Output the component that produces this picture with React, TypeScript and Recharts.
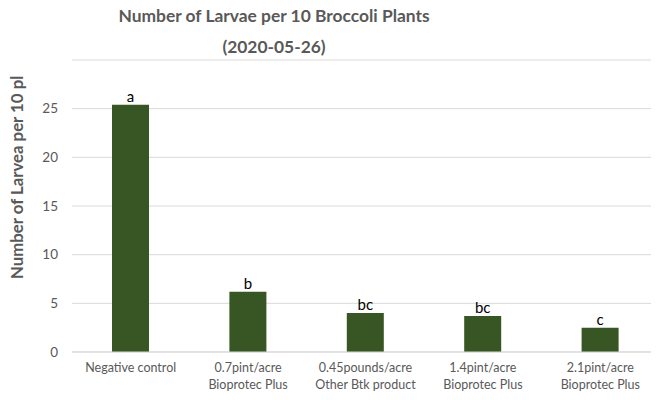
import React from "react";
import { BarChart, Bar, XAxis, YAxis, CartesianGrid, LabelList } from "recharts";

// treatments (two-line tick labels)
const treatments = [
  ["Negative control"],
  ["0.7pint/acre", "Bioprotec Plus"],
  ["0.45pounds/acre", "Other Btk product"],
  ["1.4pint/acre", "Bioprotec Plus"],
  ["2.1pint/acre", "Bioprotec Plus"],
];
const larvae = [25.4, 6.2, 4.0, 3.7, 2.5];
const groups = ["a", "b", "bc", "bc", "c"];
const yTicks = [0, 5, 10, 15, 20, 25];

const data = treatments.map((t, i) => ({
  name: t.join(" "),
  value: larvae[i],
  group: groups[i],
}));

const FONT = "Lato, 'Open Sans', sans-serif";
const GREY = "#595959";

const TreatmentTick = ({ x, payload, index }: any) => {
  const lines = treatments[index] || [payload.value];
  // baseline of the first line just under the plot
  return (
    <text x={x} y={372} textAnchor="middle" fill={GREY} fontSize={12.5} fontFamily={FONT}>
      {lines.map((l: string, i: number) => (
        <tspan key={i} x={x} dy={i === 0 ? 0 : 17}>
          {l}
        </tspan>
      ))}
    </text>
  );
};

export default function App() {
  return (
    <div style={{ margin: -8, width: 659, height: 400, background: "#fff", position: "relative" }}>
      <BarChart
        width={659}
        height={400}
        data={data}
        margin={{ top: 60, right: 0, left: 0, bottom: 0 }}
        barCategoryGap={0}
        style={{ overflow: "visible" }}
      >
        {/* title */}
        <text x={274} y={22} textAnchor="middle" fill={GREY} fontSize={17.4} fontWeight="bold" fontFamily={FONT}>
          Number of Larvae per 10 Broccoli Plants
        </text>
        <text x={274} y={53} textAnchor="middle" fill={GREY} fontSize={17.4} fontWeight="bold" fontFamily={FONT}>
          (2020-05-26)
        </text>
        {/* y axis title, cut off at the top like the source */}
        <text
          x={0}
          y={0}
          transform="translate(23, 279) rotate(-90)"
          textAnchor="start"
          fill={GREY}
          fontSize={16.8}
          fontWeight="bold"
          fontFamily={FONT}
        >
          Number of Larvea per 10 pl
        </text>
        <CartesianGrid vertical={false} stroke="#d9d9d9" />
        <XAxis
          dataKey="name"
          height={48}
          axisLine={{ stroke: "#d9d9d9" }}
          tickLine={false}
          interval={0}
          tick={<TreatmentTick />}
        />
        <YAxis
          width={72}
          domain={[0, 30]}
          ticks={yTicks}
          axisLine={false}
          tickLine={false}
          tickMargin={8}
          tick={{ fill: GREY, fontSize: 13.5, fontFamily: FONT }}
        />
        <Bar dataKey="value" fill="#375623" barSize={37} isAnimationActive={false}>
          <LabelList dataKey="group" position="top" offset={3} fill="#000" fontSize={15} fontFamily={FONT} />
        </Bar>
      </BarChart>
    </div>
  );
}
